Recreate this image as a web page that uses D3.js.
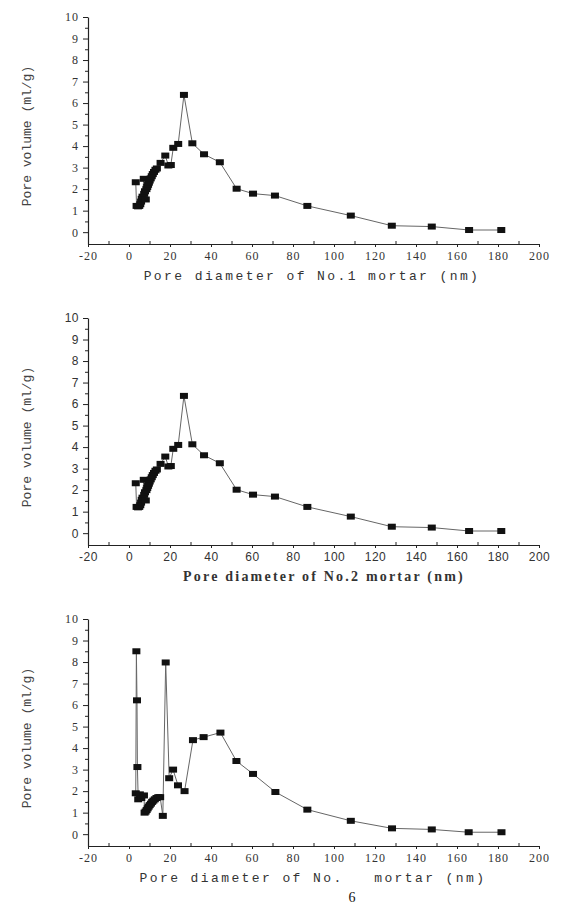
<!DOCTYPE html>
<html>
<head>
<meta charset="utf-8">
<script src="https://cdn.jsdelivr.net/npm/d3@7"></script>
<style>
  body { margin: 0; background: #fff; }
  svg { display: block; }
</style>
</head>
<body>
<svg width="583" height="907"></svg>
<script>
// pore diameter (nm) / pore volume (ml/g)
const diam1 = [3.3, 3.7, 4.4, 5.0, 5.5, 5.9, 6.2, 6.6, 7.2, 7.4, 7.8, 8.2, 8.5, 8.9, 9.3, 9.7, 10.1, 10.6, 11.1, 11.6, 12.2, 12.9, 13.6, 15.4, 17.7, 19.2, 20.4, 21.6, 24.0, 26.8, 30.9, 36.6, 44.3, 52.5, 60.5, 71.2, 87.0, 108.2, 128.2, 147.7, 165.9, 181.6];
const vol1 = [2.32, 1.22, 1.2, 1.22, 1.3, 1.42, 1.55, 1.65, 2.48, 1.78, 1.9, 1.52, 2.0, 2.1, 2.2, 2.3, 2.4, 2.5, 2.6, 2.7, 2.8, 2.9, 2.96, 3.22, 3.56, 3.1, 3.12, 3.92, 4.1, 6.38, 4.13, 3.62, 3.25, 2.02, 1.79, 1.7, 1.22, 0.77, 0.3, 0.26, 0.1, 0.1];

// No.2 mortar plot shows the same curve
const diam2 = diam1;
const vol2 = vol1;

const diam3 = [3.3, 3.6, 3.9, 4.1, 4.5, 5.3, 6.0, 7.3, 7.6, 8.1, 8.6, 9.1, 9.6, 10.1, 10.7, 11.3, 11.9, 12.6, 13.4, 14.3, 15.2, 16.5, 17.9, 19.6, 21.5, 23.9, 27.1, 31.2, 36.4, 44.6, 52.4, 60.5, 71.4, 87.0, 108.2, 128.3, 147.7, 165.7, 181.7];
const vol3 = [1.9, 8.5, 6.22, 3.12, 1.62, 1.85, 1.68, 1.8, 1.0, 1.05, 1.12, 1.2, 1.28, 1.35, 1.42, 1.5, 1.56, 1.62, 1.68, 1.72, 1.72, 0.85, 7.98, 2.6, 3.0, 2.27, 2.0, 4.37, 4.51, 4.72, 3.4, 2.8, 1.96, 1.14, 0.62, 0.27, 0.22, 0.09, 0.09];

const xTicks = d3.range(-20, 201, 20);
const yTicks = d3.range(0, 11, 1);

const svg = d3.select('svg');

const x = d3.scaleLinear().domain([-20, 200]).range([88, 539]);

function drawPanel(top, diam, vol, opts) {
    const y = d3.scaleLinear().domain([-0.55, 10]).range([top + 227, top]);
    const g = svg.append('g');

    // y axis
    g.append('g').attr('transform', 'translate(88,0)')
        .call(d3.axisLeft(y).tickValues(yTicks).tickSize(5).tickSizeOuter(0).tickPadding(4)
            .tickFormat(d => String(d)));
    g.append('g').attr('transform', 'translate(88,0)')
        .call(d3.axisLeft(y).tickValues(d3.range(0.5, 10, 1)).tickSize(3).tickFormat(''))
        .select('.domain').remove();

    // x axis
    g.append('g').attr('transform', 'translate(0,' + (top + 227) + ')')
        .call(d3.axisBottom(x).tickValues(xTicks).tickSize(3).tickSizeOuter(0).tickPadding(4)
            .tickFormat(d => String(d)));
    g.append('g').attr('transform', 'translate(0,' + (top + 227) + ')')
        .call(d3.axisTop(x).tickValues(d3.range(-10, 200, 20)).tickSize(3).tickFormat(''))
        .select('.domain').remove();

    g.selectAll('.domain').attr('stroke', '#222').attr('stroke-width', 1.2);
    g.selectAll('.tick line').attr('stroke', '#222').attr('stroke-width', 1);
    g.selectAll('.tick text')
        .attr('font-family', opts.tickFont)
        .attr('font-size', opts.tickSize)
        .attr('letter-spacing', opts.tickSpacing)
        .attr('fill', '#333');

    // connecting line
    const pts = diam.map((d, i) => [d, vol[i]]);
    g.append('path')
        .datum(pts)
        .attr('fill', 'none')
        .attr('stroke', '#666')
        .attr('stroke-width', 1)
        .attr('d', d3.line().x(d => x(d[0])).y(d => y(d[1])));

    g.selectAll('rect.pt')
        .data(pts).enter()
        .append('rect')
        .attr('class', 'pt')
        .attr('x', d => x(d[0]) - 4)
        .attr('y', d => y(d[1]) - 3)
        .attr('width', 8)
        .attr('height', 6)
        .attr('fill', '#111');

    // axis titles
    g.append('text')
        .attr('transform', 'translate(31,' + (top + 119) + ') rotate(-90)')
        .attr('text-anchor', 'middle')
        .attr('font-family', 'Liberation Mono, monospace')
        .attr('font-size', 13)
        .attr('fill', '#444')
        .text('Pore volume (ml/g)');

    g.append('text')
        .attr('x', opts.titleX)
        .attr('y', top + 263)
        .attr('text-anchor', 'middle')
        .attr('font-family', opts.titleFont)
        .attr('font-weight', opts.titleWeight)
        .attr('font-size', opts.titleSize)
        .attr('letter-spacing', opts.titleSpacing)
        .attr('fill', '#333')
        .attr('xml:space', 'preserve')
        .text(opts.title);
}

drawPanel(17, diam1, vol1, {
    tickFont: 'Liberation Serif, serif', tickSize: 12, tickSpacing: 1,
    title: 'Pore diameter of No.1 mortar (nm)', titleX: 312,
    titleFont: 'Liberation Mono, monospace', titleWeight: 'normal', titleSize: 13, titleSpacing: 2.4
});

drawPanel(318, diam2, vol2, {
    tickFont: 'Liberation Sans, sans-serif', tickSize: 12, tickSpacing: 0.5,
    title: 'Pore diameter of No.2 mortar (nm)', titleX: 324,
    titleFont: 'Liberation Serif, serif', titleWeight: 'bold', titleSize: 14, titleSpacing: 2.2
});

drawPanel(619, diam3, vol3, {
    tickFont: 'Liberation Serif, serif', tickSize: 12, tickSpacing: 1,
    title: 'Pore diameter of No.   mortar (nm)', titleX: 313,
    titleFont: 'Liberation Mono, monospace', titleWeight: 'normal', titleSize: 13, titleSpacing: 2.4
});

// the "6" sitting in the gap of the third title, a little lower
svg.append('text')
    .attr('x', 352)
    .attr('y', 902)
    .attr('text-anchor', 'middle')
    .attr('font-family', 'Liberation Serif, serif')
    .attr('font-size', 14)
    .attr('fill', '#111')
    .text('6');
</script>
</body>
</html>
